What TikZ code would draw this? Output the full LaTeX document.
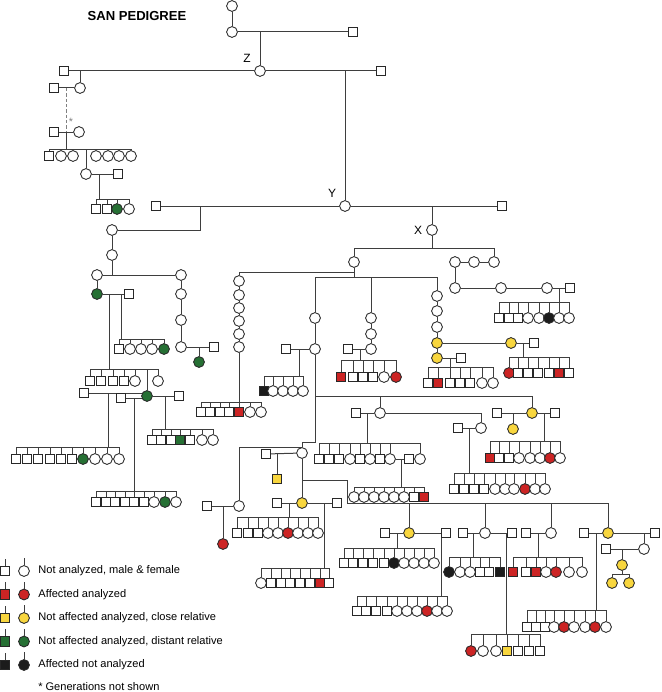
\documentclass[tikz,border=0pt]{standalone}
\usepackage{fontspec}
\setmainfont{Liberation Sans}
\usepackage{tikz}
\usetikzlibrary{positioning}

\definecolor{lgray}{RGB}{62,62,62}
\definecolor{sym}{RGB}{40,40,40}
\definecolor{aff}{RGB}{204,36,36}
\definecolor{close}{RGB}{248,214,62}
\definecolor{dist}{RGB}{38,112,52}
\definecolor{unk}{RGB}{28,28,28}

\pgfdeclarelayer{bg}
\pgfsetlayers{bg,main}

% one sibship: name, y of the sibling line, y of the children, x/style list
\newcommand\sibs[4]{%
  \foreach \x/\s [count=\i] in {#4}{%
    \node[\s] (#1-\i) at (\x,#3) {};
    \xdef\nlast{\i}}%
  \begin{pgfonlayer}{bg}
    \foreach \i in {1,...,\nlast} \draw[ln] (#1-\i) -- (#1-\i |- 0,#2);
    \draw[ln] (#1-1 |- 0,#2) -- (#1-\nlast |- 0,#2);
  \end{pgfonlayer}}

\begin{document}
\begin{tikzpicture}
    [x=0.75pt,y=-0.75pt,
     ln/.style={draw=lgray,line width=0.75pt},
     p/.style={draw=sym,fill=white,line width=0.65pt,inner sep=0pt},
     m/.style={p,rectangle,minimum size=6.9pt},
     f/.style={p,circle,minimum size=8.1pt},
     mr/.style={m,fill=aff},fr/.style={f,fill=aff},
     my/.style={m,fill=close},fy/.style={f,fill=close},
     mg/.style={m,fill=dist},fg/.style={f,fill=dist},
     mk/.style={m,fill=unk},fk/.style={f,fill=unk},
     lbl/.style={font=\fontsize{8.3}{10}\selectfont,inner sep=0pt,anchor=west},
     tag/.style={font=\fontsize{9}{10}\selectfont,inner sep=0pt}]
    \useasboundingbox (0,0) rectangle (661,692);

    \node[font=\bfseries\fontsize{9.8}{11}\selectfont,inner sep=0pt] (title) at (137,16) {SAN PEDIGREE};

    % top generations, Z
    \node[f] (gA) at (232,6) {};
    \node[f] (gB) at (232,32) {};
    \node[m] (gBh) at (353,32) {};
    \node[f] (nz) at (260,71) {};
    \node[tag] (zlab) at (247,58) {Z};
    \node[m] (zh1) at (64,71) {};
    \node[m] (zh2) at (381,71) {};

    % left of Z
    \node[f] (a1) at (80,88) {};
    \node[m] (a1h) at (54,88) {};
    \node[m] (a2h) at (54,132) {};
    \node[f] (a2) at (79,132) {};
    \node[font=\fontsize{8}{9}\selectfont,text=gray,inner sep=0pt] (star) at (71,122) {*};
    \sibs{s1}{149}{156}{49/m,61/f,73/f,96/f,108/f,119/f,131/f}
    \node[f] (b1) at (86,174) {};
    \node[m] (b1h) at (118,174) {};
    \sibs{s2}{199}{209}{96/m,107/m,117/fg,129/f}

    % Y
    \node[f] (ny) at (345,206) {};
    \node[tag] (ylab) at (332,193) {Y};
    \node[m] (yh1) at (156,206) {};
    \node[m] (yh2) at (502,206) {};
    \node[f] (c1) at (112,230) {};
    \node[f] (c2) at (112,255) {};
    \node[f] (c3) at (97,275) {};
    \node[f] (c4) at (181,275) {};
    \node[fg] (c5) at (97,294) {};
    \node[m] (c5h) at (129,294) {};
    \sibs{s3}{339}{349}{119/m,130/f,141/f,152/f,164/fg}
    \sibs{s4}{369}{381}{90/m,101/m,113/m,124/m,135/f,158/f}
    \node[fg] (c6) at (147,396) {};
    \node[m] (c6h1) at (84,393) {};
    \node[m] (c6h2) at (121,398) {};
    \node[m] (c6h3) at (179,396) {};
    \sibs{s5}{447}{459}{16/m,27/m,38/m,50/m,61/m,72/m,83/fg,95/f,107/f,119/f}
    \sibs{s6}{491}{502}{96/m,106/m,115/m,125/m,134/m,144/m,154/f,165/fg,176/f}
    \sibs{s7}{429}{440}{152/m,161/m,171/m,180/mg,190/m,202/f,213/f}
    \node[f] (c7) at (181,294) {};
    \node[f] (c8) at (181,320) {};
    \node[f] (c9) at (181,347) {};
    \node[m] (c9h) at (214,347) {};
    \node[fg] (c10) at (199,362) {};

    % X
    \node[f] (nx) at (432,230) {};
    \node[tag] (xlab) at (418,230) {X};
    \node[f] (d1) at (354,262) {};
    \node[f] (e1) at (494,262) {};
    \node[f] (e2) at (474,262) {};
    \node[f] (e3) at (455,262) {};
    \node[f] (e4) at (455,288) {};
    \node[f] (e5) at (501,288) {};
    \node[f] (e6) at (547,288) {};
    \node[m] (e6h) at (570,288) {};
    \sibs{s23}{302}{318}{499/m,509/m,518/m,528/f,539/f,549/fk,559/f,569/f}

    \foreach \yy [count=\i] in {281,295,308,321,334,347} \node[f] (h\i) at (239,\yy) {};
    \sibs{s8}{402}{412}{201/m,210/m,220/m,229/m,239/mr,250/f,261/f}
    \node[f] (i1) at (315,318) {};
    \node[f] (i2) at (315,349) {};
    \node[m] (i2h) at (286,349) {};
    \sibs{s9}{376}{391}{264/mk,273/f,283/f,293/f,303/f}
    \node[f] (p1) at (371,318) {};
    \node[f] (p2) at (371,334) {};
    \node[f] (p3) at (371,349) {};
    \node[m] (p3h) at (348,349) {};
    \sibs{s24}{360}{377}{341/mr,353/m,363/m,373/m,384/f,396/fr}
    \node[f] (q1) at (437,296) {};
    \node[f] (q2) at (437,311) {};
    \node[f] (q3) at (437,327) {};
    \node[fy] (q4) at (437,343) {};
    \node[fy] (q5) at (437,358) {};
    \node[fy] (q6) at (511,343) {};
    \node[m] (q6h) at (534,343) {};
    \node[m] (q5h) at (461,358) {};
    \sibs{s25}{357}{373}{509/fr,518/m,528/m,538/m,549/m,559/mr,569/m}
    \sibs{s26}{367}{383}{428/m,438/mr,450/m,460/m,470/m,482/f,493/f}

    % middle
    \node[f] (k1) at (380,413) {};
    \node[m] (k1h) at (356,413) {};
    \node[fy] (l1) at (532,413) {};
    \node[m] (l1h1) at (497,413) {};
    \node[m] (l1h2) at (555,413) {};
    \node[fy] (l2) at (513,429) {};
    \node[f] (k2) at (481,428) {};
    \node[m] (k2h) at (458,428) {};
    \sibs{s10}{443}{459}{319/m,329/m,339/m,350/f,360/m,370/f,380/m,390/f,420/f}
    \node[m] (s10h) at (409,459) {};
    \sibs{s11}{487}{497}{354/f,364/f,374/f,384/f,394/f,404/f,414/m,424/mr}
    \sibs{s12}{473}{489}{454/m,464/m,474/m,484/m,495/f,505/f,514/f,525/fr,535/f,545/f}
    \sibs{s13}{441}{458}{490/mr,499/m,509/m,519/f,530/f,540/f,550/fr,560/f}

    % lower left
    \node[f] (j1) at (302,453) {};
    \node[m] (j1h) at (266,454) {};
    \node[my] (j2) at (277,479) {};
    \node[f] (j3) at (239,506) {};
    \node[m] (j3h) at (207,506) {};
    \node[fr] (j4) at (223,544) {};
    \node[fy] (j5) at (302,503) {};
    \node[m] (j5h1) at (277,503) {};
    \node[m] (j5h2) at (337,503) {};
    \sibs{s14}{517}{533}{237/m,248/m,258/m,268/f,278/f,288/fr,298/f,308/f,318/f}
    \sibs{s15}{568}{583}{261/f,271/m,281/m,290/m,300/m,310/m,320/mr,329/m}

    % lower right
    \node[fy] (n1) at (409,533) {};
    \node[m] (n1h1) at (385,533) {};
    \node[m] (n1h2) at (446,533) {};
    \node[f] (n2) at (485,533) {};
    \node[m] (n2h1) at (463,533) {};
    \node[m] (n2h2) at (512,533) {};
    \node[f] (n3) at (551,533) {};
    \node[m] (n3h) at (526,533) {};
    \node[fy] (n4) at (608,533) {};
    \node[m] (n4h1) at (584,533) {};
    \node[m] (n4h2) at (655,533) {};
    \node[f] (n5) at (644,549) {};
    \node[m] (n5h) at (606,549) {};
    \node[fy] (n6) at (622,565) {};
    \sibs{s16}{548}{563}{344/m,353/m,363/m,373/m,384/m,394/fk,404/f,414/f,424/f,434/f}
    \sibs{s17}{596}{611}{357/m,366/m,376/m,387/m,397/f,407/f,417/f,427/fr,437/f,447/f}
    \sibs{s18}{557}{572}{449/fk,460/f,470/f,480/m,489/m,500/mk}
    \sibs{s19}{634}{651}{471/fr,483/f,496/f,507/my,518/m,529/m,540/m}
    \sibs{s20}{557}{572}{513/mr,526/m,536/mr,546/f,556/fr,569/f,582/f}
    \sibs{s21}{610}{627}{527/m,536/m,545/m,554/f,564/fr,574/f,585/f,595/fr,606/f}
    \sibs{s22}{574}{583}{612/fy,629/fy}

    \begin{pgfonlayer}{bg}
    \draw[ln] (gA) -- (gB) -- (gBh);
    \draw[ln] (gB -| nz) -- (nz);
    \draw[ln] (zh1) -- (nz) -- (zh2);
    \draw[ln] (a1 |- nz) -- (a1);
    \draw[ln] (a1h) -- (a1);
    \draw[ln,gray,dash pattern=on 2.5pt off 1.5pt] (66,88) -- (66,132);
    \draw[ln] (a2h) -- (a2);
    \draw[ln] (66,132) -- (66,149);
    \draw[ln] (b1) -- (b1 |- 0,149);
    \draw[ln] (b1) -- (b1h);
    \draw[ln] (99,174) -- (99,199);

    \draw[ln] (ny |- nz) -- (ny);
    \draw[ln] (yh1) -- (ny) -- (yh2);
    \draw[ln] (200,206) |- (c1);
    \draw[ln] (c1) -- (c2) -- (c2 |- c3);
    \draw[ln] (c3) -- (c4);
    \draw[ln] (c3) -- (c5) -- (c5h);
    \draw[ln] (121,294) -- (121,339);
    \draw[ln] (109,294) -- (109,369);
    \draw[ln] (c6) -- (c6 |- 0,369);
    \draw[ln] (c6h1) -- (c6h1 -| c6);
    \draw[ln] (c6h2) -- (c6h2 -| c6);
    \draw[ln] (c6) -- (c6h3);
    \draw[ln] (108,393) -- (108,447);
    \draw[ln] (134,398) -- (134,491);
    \draw[ln] (165,396) -- (165,429);
    \draw[ln] (c4) -- (c7) -- (c8) -- (c9) -- (c9h);
    \draw[ln] (199,347) -- (c10);

    \draw[ln] (ny -| nx) -- (nx) -- (nx |- 0,248);
    \draw[ln] (d1 |- 0,248) -- (e1 |- 0,248);
    \draw[ln] (d1 |- 0,248) -- (d1);
    \draw[ln] (e1 |- 0,248) -- (e1);
    \draw[ln] (e1) -- (e2) -- (e3) -- (e4) -- (e5) -- (e6) -- (e6h);
    \draw[ln] (559,288) -- (559,302);
    \draw[ln] (d1) -- (354,277);
    \draw[ln] (354,272) -| (h1);
    \draw[ln] (h1) -- (h2) -- (h3) -- (h4) -- (h5) -- (h6) -- (s8-5);
    \draw[ln] (i1 |- 0,277) -- (q1 |- 0,277);
    \draw[ln] (i1 |- 0,277) -- (i1) -- (i2) -- (i2h);
    \draw[ln] (299,349) -- (299,376);
    \draw[ln] (p1 |- 0,277) -- (p1) -- (p2) -- (p3) -- (p3h);
    \draw[ln] (360,349) -- (360,360);
    \draw[ln] (q1 |- 0,277) -- (q1) -- (q2) -- (q3) -- (q4) -- (q5) -- (q5h);
    \draw[ln] (q4) -- (q6) -- (q6h);
    \draw[ln] (523,343) -- (523,357);
    \draw[ln] (450,358) -- (450,367);

    \draw[ln] (i2) -- (315,442) -| (j1);
    \draw[ln] (315,396) -- (l1 |- 0,396);
    \draw[ln] (k1 |- 0,396) -- (k1);
    \draw[ln] (l1 |- 0,396) -- (l1);
    \draw[ln] (k1h) -- (k1) -| (k2);
    \draw[ln] (367,413) -- (367,443);
    \draw[ln] (s10-8) -- (s10h);
    \draw[ln] (401,459) -- (401,487);
    \draw[ln] (k2h) -- (k2);
    \draw[ln] (469,428) -- (469,473);
    \draw[ln] (l1h1) -- (l1) -- (l1h2);
    \draw[ln] (513,413) -- (l2);
    \draw[ln] (544,413) -- (544,441);

    \draw[ln] (j1h) -- (j1);
    \draw[ln] (277,454) -- (j2);
    \draw[ln] (j1.north) -| (j3);
    \draw[ln] (j3h) -- (j3);
    \draw[ln] (223,506) -- (j4);
    \draw[ln] (j1) -- (j5);
    \draw[ln] (j5h1) -- (j5) -- (j5h2);
    \draw[ln] (289,503) -- (289,517);
    \draw[ln] (324,503) -- (324,568);
    \draw[ln] (302,480) -| (347,503) -- (n4 |- 0,503);

    \draw[ln] (n1 |- 0,503) -- (n1);
    \draw[ln] (n2 |- 0,503) -- (n2);
    \draw[ln] (n3 |- 0,503) -- (n3);
    \draw[ln] (n4 |- 0,503) -- (n4);
    \draw[ln] (n1h1) -- (n1) -- (n1h2);
    \draw[ln] (397,533) -- (397,548);
    \draw[ln] (441,533) -- (441,596);
    \draw[ln] (n2h1) -- (n2) -- (n2h2);
    \draw[ln] (473,533) -- (473,557);
    \draw[ln] (506,533) -- (506,634);
    \draw[ln] (n3h) -- (n3);
    \draw[ln] (538,533) -- (538,557);
    \draw[ln] (n4h1) -- (n4) -- (n4h2);
    \draw[ln] (596,533) -- (596,610);
    \draw[ln] (644,533) -- (n5);
    \draw[ln] (n5h) -- (n5);
    \draw[ln] (622,549) -- (n6) -- (n6 |- 0,574);
    \end{pgfonlayer}

    % legend
    \foreach \a/\b/\t [count=\i] in {m/f/{Not analyzed, male \& female},
        mr/fr/{Affected analyzed},
        my/fy/{Not affected analyzed, close relative},
        mg/fg/{Not affected analyzed, distant relative},
        mk/fk/{Affected not analyzed}}{
      \pgfmathsetmacro\yy{547.5+23.5*\i}
      \node[\a] (lm\i) at (5,\yy) {};
      \node[\b] (lf\i) at (24,\yy) {};
      \node[lbl,right=6.3pt of lf\i] (lt\i) {\t};
      \draw[ln] (lm\i.north) -- ++(0,-7);
      \draw[ln] (lf\i.north) -- ++(0,-7);
    }
    \node[lbl] (note) at (38,687) {* Generations not shown};
\end{tikzpicture}
\end{document}
